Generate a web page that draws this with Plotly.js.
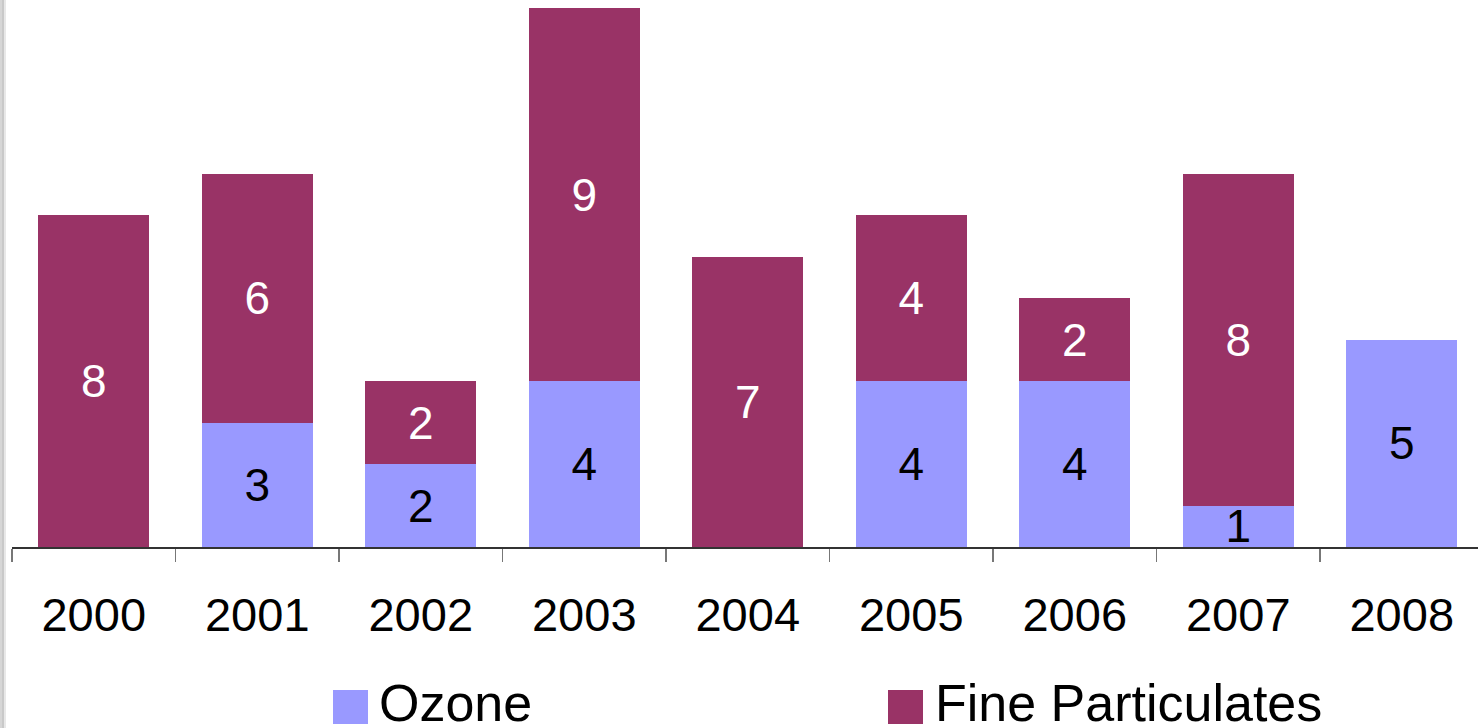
<!DOCTYPE html>
<html>
<head>
<meta charset="utf-8">
<script src="https://cdn.plot.ly/plotly-3.0.1.min.js"></script>
<style>
  html, body { margin: 0; padding: 0; background: #ffffff; }
  #chart { width: 1478px; height: 728px; }
</style>
</head>
<body>
<div id="chart"></div>
<script>
// ---- data ----
const years = ['2000', '2001', '2002', '2003', '2004', '2005', '2006', '2007', '2008'];
const ozone = [0, 3, 2, 4, 0, 4, 4, 1, 5];
const fineParticulates = [8, 6, 2, 9, 7, 4, 2, 8, 0];
const seriesNames = ['Ozone', 'Fine Particulates'];
const seriesColors = ['#9999FF', '#993366'];

// ---- geometry helpers (pixel -> paper) ----
const W = 1478, H = 728;
const mL = 12, mR = 0, mT = 0, mB = 181;
const plotW = W - mL - mR, plotH = H - mT - mB;
const px = x => (x - mL) / plotW;
const py = y => (H - mB - y) / plotH;

const labelText = arr => arr.map(v => (v ? String(v) : ''));

const font = 'Arial, "Liberation Sans", sans-serif';

const traces = [
  {
    type: 'bar', name: seriesNames[0], x: years, y: ozone,
    text: labelText(ozone), textposition: 'inside', insidetextanchor: 'middle',
    constraintext: 'none', textangle: 0,
    textfont: { family: font, size: 46, color: '#000000' },
    marker: { color: seriesColors[0], line: { width: 0 } },
    hoverinfo: 'x+y+name', showlegend: false
  },
  {
    type: 'bar', name: seriesNames[1], x: years, y: fineParticulates,
    text: labelText(fineParticulates), textposition: 'inside', insidetextanchor: 'middle',
    constraintext: 'none', textangle: 0,
    textfont: { family: font, size: 46, color: '#ffffff' },
    marker: { color: seriesColors[1], line: { width: 0 } },
    hoverinfo: 'x+y+name', showlegend: false
  }
];

const catW = 163.5;
const pxPerUnit = 41.46;

const shapes = [
  // left-edge shadow
  { type: 'rect', xref: 'paper', yref: 'paper', x0: px(0), x1: px(2), y0: py(H), y1: py(0), fillcolor: '#d6d6d6', line: { width: 0 }, layer: 'above' },
  { type: 'rect', xref: 'paper', yref: 'paper', x0: px(2), x1: px(4), y0: py(H), y1: py(0), fillcolor: '#c9c9c9', line: { width: 0 }, layer: 'above' },
  { type: 'rect', xref: 'paper', yref: 'paper', x0: px(4), x1: px(6), y0: py(H), y1: py(0), fillcolor: '#e8e8e8', line: { width: 0 }, layer: 'above' },
  // legend swatches
  { type: 'rect', xref: 'paper', yref: 'paper', x0: px(333), x1: px(368), y0: py(724), y1: py(690), fillcolor: seriesColors[0], line: { width: 0 } },
  { type: 'rect', xref: 'paper', yref: 'paper', x0: px(888), x1: px(923), y0: py(724), y1: py(690), fillcolor: seriesColors[1], line: { width: 0 } }
];

const annotations = [
  { xref: 'paper', yref: 'paper', x: px(377), y: py(703), xanchor: 'left', yanchor: 'middle', text: seriesNames[0], showarrow: false, font: { family: font, size: 52, color: '#000000' } },
  { xref: 'paper', yref: 'paper', x: px(933), y: py(703), xanchor: 'left', yanchor: 'middle', text: seriesNames[1], showarrow: false, font: { family: font, size: 52, color: '#000000' } }
];

const layout = {
  width: W, height: H,
  margin: { l: mL, r: mR, t: mT, b: mB, pad: 0 },
  paper_bgcolor: '#ffffff', plot_bgcolor: '#ffffff',
  barmode: 'stack', bargap: 0.321,
  showlegend: false,
  xaxis: {
    type: 'category',
    range: [-0.5, -0.5 + plotW / catW],
    showline: true, linecolor: '#333333', linewidth: 1.5,
    ticks: 'outside', tickson: 'boundaries', ticklen: 13, tickwidth: 1.5, tickcolor: '#777777',
    tickfont: { family: font, size: 47, color: '#000000' },
    ticklabelstandoff: 26,
    showgrid: false, zeroline: false, fixedrange: true
  },
  yaxis: {
    range: [0, plotH / pxPerUnit],
    visible: false, showgrid: false, zeroline: false, fixedrange: true
  },
  shapes: shapes,
  annotations: annotations,
  font: { family: font }
};

Plotly.newPlot('chart', traces, layout, { displayModeBar: false, staticPlot: true });
</script>
</body>
</html>
